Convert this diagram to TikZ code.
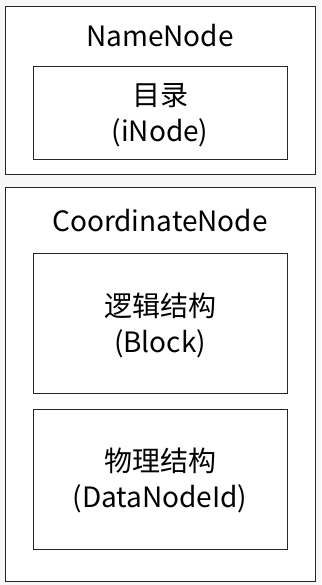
\documentclass[tikz,border=0pt]{standalone}
\usepackage{fontspec}
\setmainfont{Noto Sans CJK SC}
\begin{document}
\begin{tikzpicture}[x=1pt,y=-1pt,
  outerbox/.style={draw=black!85,line width=1pt,fill=white},
  innerbox/.style={draw=black!85,line width=1pt,fill=white},
  lbl/.style={font=\fontsize{28}{36}\selectfont,text=black,align=center,inner sep=0pt}]
\fill[black!3] (0,0) rectangle (321,585);
\useasboundingbox (0,0) rectangle (321,585);
\draw[outerbox] (5,7) rectangle (315,175);
\draw[innerbox] (33,67) rectangle (287,160);
\node[lbl] (nn) at (160,36) {NameNode};
\node[lbl] (dir) at (160,115) {目录\\(iNode)};
\draw[outerbox] (5,188) rectangle (315,581);
\node[lbl] (cn) at (160,221) {CoordinateNode};
\draw[innerbox] (33,253) rectangle (287,393);
\node[lbl] (lg) at (160,325) {逻辑结构\\(Block)};
\draw[innerbox] (33,409) rectangle (287,549);
\node[lbl] (ph) at (160,480) {物理结构\\(DataNodeId)};
\end{tikzpicture}
\end{document}
